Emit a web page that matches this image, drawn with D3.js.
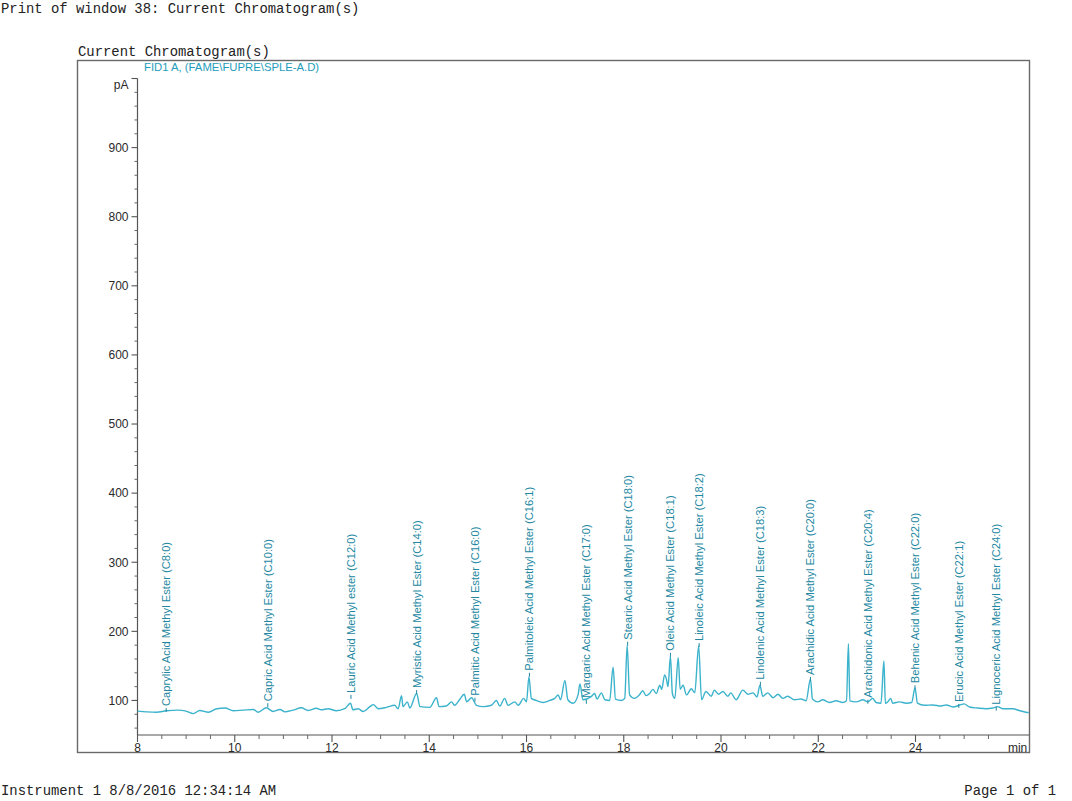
<!DOCTYPE html>
<html>
<head>
<meta charset="utf-8">
<script src="https://cdn.jsdelivr.net/npm/d3@7/dist/d3.min.js"></script>
<style>
  html, body { margin: 0; padding: 0; background: #ffffff; }
  svg { display: block; }
</style>
</head>
<body>
<svg id="chart" width="1072" height="801"></svg>
<script>
// ---------------- DATA ----------------
const traceTime = [
  8.00, 8.19, 8.39, 8.59, 8.84, 8.98, 9.15, 9.28, 9.46, 9.63, 9.80, 9.97,
  10.17, 10.38, 10.48, 10.65, 10.79, 10.93, 11.03, 11.20, 11.37, 11.51, 11.68, 11.78, 11.92,
  12.09, 12.26, 12.38, 12.43, 12.54, 12.64, 12.78, 12.85, 12.95, 13.12, 13.29, 13.36, 13.43,
  13.46, 13.55, 13.60, 13.74, 13.81, 14.01, 14.15, 14.20, 14.35, 14.46, 14.52, 14.63, 14.72,
  14.77, 14.87, 14.97, 15.11, 15.28, 15.38, 15.45, 15.55, 15.62, 15.76, 15.83, 15.94, 16.00,
  16.05, 16.10, 16.20, 16.34, 16.48, 16.58, 16.65, 16.70, 16.79, 16.85, 16.96, 17.06, 17.10,
  17.16, 17.33, 17.40, 17.45, 17.54, 17.61, 17.71, 17.78, 17.83, 17.95, 18.02, 18.07, 18.12,
  18.22, 18.32, 18.39, 18.46, 18.53, 18.60, 18.67, 18.74, 18.78, 18.84, 18.88, 18.91, 18.96,
  19.00, 19.05, 19.12, 19.16, 19.22, 19.29, 19.39, 19.46, 19.54, 19.60, 19.69, 19.80, 19.86,
  19.95, 20.04, 20.14, 20.20, 20.31, 20.45, 20.55, 20.66, 20.74, 20.80, 20.86, 20.96, 21.07,
  21.17, 21.27, 21.37, 21.51, 21.65, 21.75, 21.84, 21.88, 21.99, 22.09, 22.23, 22.37, 22.50,
  22.58, 22.62, 22.65, 22.78, 22.92, 23.02, 23.12, 23.19, 23.29, 23.35, 23.38, 23.43, 23.49,
  23.53, 23.67, 23.81, 23.92, 23.99, 24.04, 24.18, 24.35, 24.53, 24.63, 24.77, 24.90, 25.00,
  25.11, 25.28, 25.45, 25.59, 25.69, 25.79, 26.00, 26.13, 26.27, 26.33
];
const traceSignal = [
  84.5, 83.5, 83, 85, 86, 85, 81, 85.5, 83, 88, 89, 85,
  86, 87, 83, 89.5, 84, 87, 83.5, 86, 89.5, 85.5, 88.7, 86.5, 88,
  85, 88, 96, 86.5, 88, 84, 91, 94, 88, 90, 93, 88, 107,
  91, 98, 89, 110, 91, 90, 104, 91, 92, 98, 93, 101.7, 109,
  98, 104, 93, 91, 93, 100, 92, 103, 93, 98, 93, 103, 98,
  134, 103, 100, 97, 100, 103, 108, 101, 129, 101, 96, 108, 124,
  101, 105.5, 110, 102, 111, 101, 100, 148, 102, 100, 103, 180, 108,
  103, 108, 114, 107, 110, 116, 110, 122, 116, 137, 130, 120, 164,
  110, 103, 162, 116, 122, 108, 117, 111, 179, 101, 113, 106, 115,
  109, 113, 106, 111, 101, 115, 109, 111, 105, 122, 106, 111, 104,
  109, 103, 106, 101, 102, 99.5, 131, 102, 98, 101, 97, 99.5, 97,
  99.5, 182, 99.5, 98, 101, 98, 103, 97, 96, 157, 95.5, 98, 103,
  96, 98, 96, 97, 118, 96, 93, 93.5, 92, 93.5, 90.5, 93, 95,
  90.5, 89, 88, 89, 91, 88, 88, 85.5, 83, 82.5
];

const peakNames = [
  "Caprylic Acid Methyl Ester (C8:0)",
  "Capric Acid Methyl Ester (C10:0)",
  "Lauric Acid Methyl ester (C12:0)",
  "Myristic Acid Methyl Ester (C14:0)",
  "Palmitic Acid Methyl Ester (C16:0)",
  "Palmitoleic Acid Methyl Ester (C16:1)",
  "Margaric Acid Methyl Ester (C17:0)",
  "Stearic Acid Methyl Ester (C18:0)",
  "Oleic Acid Methyl Ester (C18:1)",
  "Linoleic Acid Methyl Ester (C18:2)",
  "Linolenic Acid Methyl Ester (C18:3)",
  "Arachidic Acid Methyl Ester (C20:0)",
  "Arachidonic Acid Methyl Ester (C20:4)",
  "Behenic Acid Methyl Ester (C22:0)",
  "Erucic Acid Methyl Ester (C22:1)",
  "Lignoceric Acid Methyl Ester (C24:0)"
];
const peakTime = [8.59, 10.68, 12.39, 13.74, 14.94, 16.06, 17.23, 18.08, 18.96, 19.55,
                  20.81, 21.84, 23.02, 23.99, 24.89, 25.66];
const peakLabelBase = [89, 96, 108, 115, 104, 140, 101, 185, 169, 183,
                       127, 134, 101, 122, 95, 91];

const yTickValues = [100, 200, 300, 400, 500, 600, 700, 800, 900];
const yTopLabel = "pA";
const xTickValues = [8, 10, 12, 14, 16, 18, 20, 22, 24];
const xUnitLabel = "min";

const pageTitle = "Print of window 38: Current Chromatogram(s)";
const windowTitle = "Current Chromatogram(s)";
const signalTitle = "FID1 A, (FAME\\FUPRE\\SPLE-A.D)";
const footerLeft = "Instrument 1 8/8/2016 12:34:14 AM";
const footerRight = "Page 1 of 1";

// ---------------- LAYOUT ----------------
const svg = d3.select("#chart");
const traceColor = "#3cb3cc";
const labelColor = "#22879f";
const mono = "'Liberation Mono', 'Courier New', monospace";
const sans = "'Liberation Sans', Arial, sans-serif";

const x = d3.scaleLinear().domain([8, 26.34]).range([137.5, 1029.3]);
const y = d3.scaleLinear().domain([50, 1000]).range([735, 78.5]);

// page texts
svg.append("text").attr("x", 1).attr("y", 13)
  .attr("font-family", mono).attr("font-size", 13.9).attr("fill", "#222")
  .text(pageTitle);
svg.append("text").attr("x", 78).attr("y", 56)
  .attr("font-family", mono).attr("font-size", 13.9).attr("fill", "#222")
  .text(windowTitle);
svg.append("text").attr("x", 1).attr("y", 795)
  .attr("font-family", mono).attr("font-size", 13.9).attr("fill", "#222")
  .text(footerLeft);
svg.append("text").attr("x", 1056).attr("y", 795).attr("text-anchor", "end")
  .attr("font-family", mono).attr("font-size", 13.9).attr("fill", "#222")
  .text(footerRight);

// frame
svg.append("rect").attr("x", 77.5).attr("y", 60.5).attr("width", 952).attr("height", 692)
  .attr("fill", "none").attr("stroke", "#6a6a6a").attr("stroke-width", 1.4);

svg.append("text").attr("x", 144).attr("y", 71)
  .attr("font-family", sans).attr("font-size", 11.3).attr("fill", "#1f9dbb")
  .text(signalTitle);

// y axis
const yMinor = d3.range(60, 1001, 20).filter(v => v % 100 !== 0);
const yAxisG = svg.append("g").attr("transform", "translate(137.5,0)");
yAxisG.append("line").attr("x1", 0).attr("x2", 0).attr("y1", y(1000)).attr("y2", y(50))
  .attr("stroke", "#555").attr("stroke-width", 1.2);
yAxisG.selectAll("line.minor").data(yMinor).join("line").attr("class", "minor")
  .attr("x1", -3).attr("x2", 0).attr("y1", d => y(d)).attr("y2", d => y(d))
  .attr("stroke", "#666").attr("stroke-width", 1);
yAxisG.selectAll("line.major").data(yTickValues.concat([1000])).join("line").attr("class", "major")
  .attr("x1", -6).attr("x2", 0).attr("y1", d => y(d)).attr("y2", d => y(d))
  .attr("stroke", "#555").attr("stroke-width", 1.1);
yAxisG.selectAll("text.tl").data(yTickValues).join("text").attr("class", "tl")
  .attr("x", -9).attr("y", d => y(d)).attr("dy", "0.36em").attr("text-anchor", "end")
  .attr("font-family", sans).attr("font-size", 12).attr("fill", "#2a2a2a")
  .text(d => d);
yAxisG.append("text").attr("x", -9).attr("y", y(1000)).attr("dy", "0.85em")
  .attr("text-anchor", "end").attr("font-family", sans).attr("font-size", 12)
  .attr("fill", "#2a2a2a").text(yTopLabel);

// x axis
const xMinor = d3.range(8.5, 26.1, 0.5).filter(v => v % 2 !== 0);
const xAxisG = svg.append("g").attr("transform", "translate(0,735)");
xAxisG.append("line").attr("x1", x(8)).attr("x2", x(26.34)).attr("y1", 0).attr("y2", 0)
  .attr("stroke", "#555").attr("stroke-width", 1.2);
xAxisG.selectAll("line.minor").data(xMinor).join("line").attr("class", "minor")
  .attr("x1", d => x(d)).attr("x2", d => x(d)).attr("y1", 0).attr("y2", 4)
  .attr("stroke", "#666").attr("stroke-width", 1);
xAxisG.selectAll("line.major").data(xTickValues).join("line").attr("class", "major")
  .attr("x1", d => x(d)).attr("x2", d => x(d)).attr("y1", 0).attr("y2", 7)
  .attr("stroke", "#555").attr("stroke-width", 1.1);
xAxisG.selectAll("text.tl").data(xTickValues).join("text").attr("class", "tl")
  .attr("x", d => x(d)).attr("y", 16.5).attr("text-anchor", "middle")
  .attr("font-family", sans).attr("font-size", 12).attr("fill", "#2a2a2a")
  .text(d => d);
xAxisG.append("text").attr("x", x(26.34) - 2).attr("y", 16.5).attr("text-anchor", "end")
  .attr("font-family", sans).attr("font-size", 12).attr("fill", "#2a2a2a")
  .text(xUnitLabel);

// trace
const pts = traceTime.map((t, i) => [t, traceSignal[i]]);
const line = d3.line().x(d => x(d[0])).y(d => y(d[1])).curve(d3.curveMonotoneX);
svg.append("path").datum(pts).attr("d", line)
  .attr("fill", "none").attr("stroke", traceColor).attr("stroke-width", 1.4)
  .attr("stroke-linejoin", "round");

// peak labels
const labels = svg.append("g");
peakNames.forEach((name, i) => {
  const px = x(peakTime[i]);
  const py = y(peakLabelBase[i]);
  labels.append("line").attr("x1", px).attr("x2", px).attr("y1", py + 4).attr("y2", py)
    .attr("stroke", labelColor).attr("stroke-width", 1);
  labels.append("text")
    .attr("transform", `translate(${px + 4},${py - 2}) rotate(-90)`)
    .attr("font-family", sans).attr("font-size", 11.2).attr("fill", labelColor)
    .text(name);
});
</script>
</body>
</html>
